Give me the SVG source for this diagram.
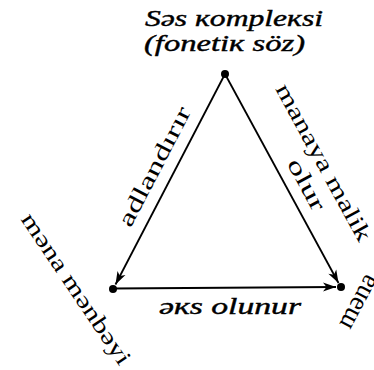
<svg xmlns="http://www.w3.org/2000/svg" width="374" height="370" viewBox="0 0 374 370">
<style>
text{font-family:"Liberation Serif",serif;font-size:23px;fill:#000}
.i{font-style:italic;stroke:#000;stroke-width:0.4}
.big{font-size:27px}
.e{stroke:#000;stroke-width:1.8;fill:none}
.d{fill:#000}
</style>
<defs>
<marker id="ah" markerUnits="userSpaceOnUse" markerWidth="16" markerHeight="12" viewBox="-14 -6 16 12" refX="0" refY="0" orient="auto">
<path d="M0,0 L-13,-4.5 L-9.5,0 L-13,4.5 Z" fill="#000"/>
</marker>
</defs>
<rect width="374" height="370" fill="#fff"/>
<g id="connectors">
<line class="e" x1="225" y1="74" x2="115.5" y2="284.5" marker-end="url(#ah)"/>
<line class="e" x1="225" y1="74" x2="338.5" y2="283" marker-end="url(#ah)"/>
<line class="e" x1="113" y1="288.5" x2="336" y2="287" marker-end="url(#ah)"/>
</g>
<g id="node-top">
<circle class="d" cx="225" cy="74" r="4"/>
<text class="i" x="145" y="26" textLength="178" lengthAdjust="spacingAndGlyphs">Səs кomplекsi</text>
<text class="i" x="144" y="51" textLength="161" lengthAdjust="spacingAndGlyphs">(fonetiк söz)</text>
</g>
<g id="node-left">
<circle class="d" cx="113" cy="289" r="4"/>
<text transform="translate(70,293) rotate(56)" text-anchor="middle" textLength="178" lengthAdjust="spacingAndGlyphs">məna mənbəyi</text>
</g>
<g id="node-right">
<circle class="d" cx="341" cy="287" r="4"/>
<text class="big" transform="translate(350,330) rotate(-62)">məna</text>
</g>
<g id="labels">
<text transform="translate(161,170) rotate(-62.5)" text-anchor="middle" textLength="132" lengthAdjust="spacingAndGlyphs">adlandırır</text>
<text transform="translate(317,166) rotate(61.4)" text-anchor="middle" textLength="176" lengthAdjust="spacingAndGlyphs">manaya malik</text>
<text transform="translate(300,188) rotate(61.4)" text-anchor="middle" textLength="56" lengthAdjust="spacingAndGlyphs">olur</text>
<text class="i" x="159" y="314" textLength="142" lengthAdjust="spacingAndGlyphs">əкs olunur</text>
</g>
</svg>
